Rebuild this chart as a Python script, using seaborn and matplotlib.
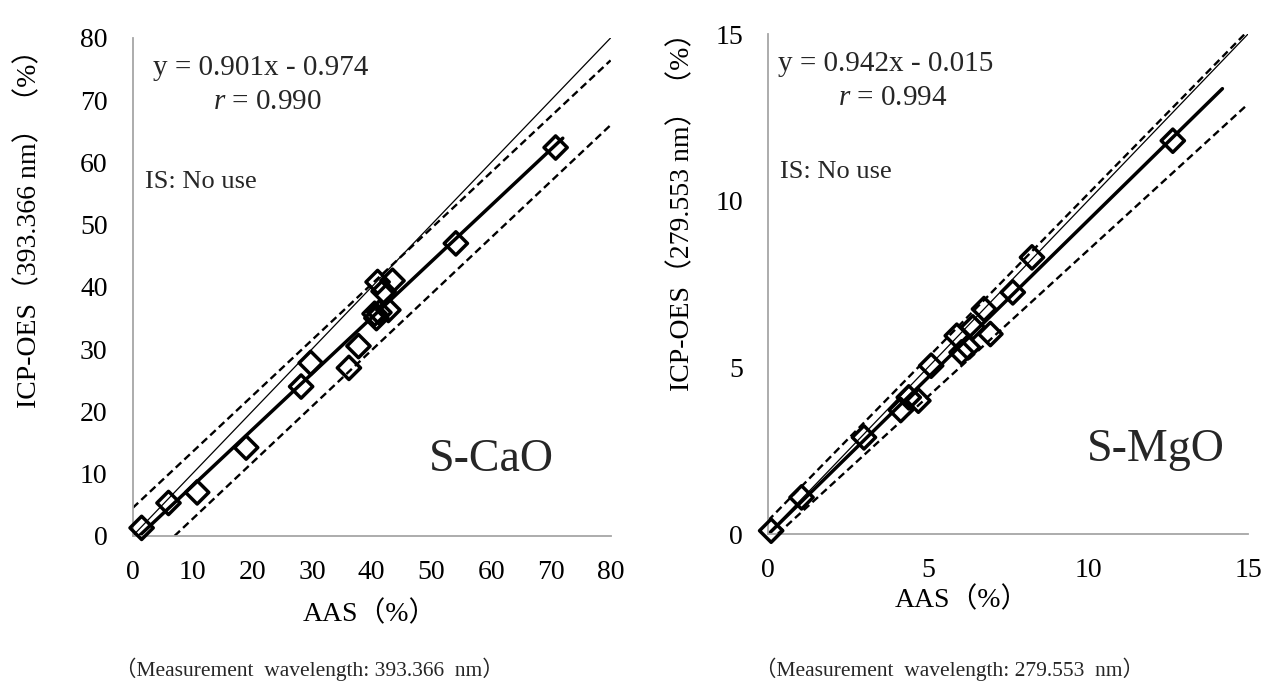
import numpy as np
import pandas as pd
import matplotlib
matplotlib.use("Agg")
import matplotlib.pyplot as plt
import seaborn as sns

# ---------------- data ----------------
cao_aas = [1.5, 6.0, 10.8, 19.0, 28.2, 29.8, 36.2, 37.8, 40.5, 40.8, 41.3, 42.8, 41.0, 42.0, 43.5, 54.1, 70.8]
cao_icp = [1.3, 5.3, 7.0, 14.2, 24.0, 27.8, 27.0, 30.5, 35.7, 35.0, 35.9, 36.3, 40.8, 39.3, 41.0, 47.0, 62.4]
cao_slope, cao_intercept, cao_r = 0.901, -0.974, 0.990
cao_fit_x = [1.2, 72.0]
cao_upper_x, cao_upper_y = [0.0, 80.0], [4.5, 76.4]
cao_lower_x, cao_lower_y = [7.0, 80.0], [0.0, 66.0]
cao_ticks = [0, 10, 20, 30, 40, 50, 60, 70, 80]

mgo_aas = [0.1, 1.05, 3.0, 4.15, 4.4, 4.7, 5.1, 5.9, 6.05, 6.25, 6.4, 6.75, 6.95, 7.65, 8.25, 12.65]
mgo_icp = [0.1, 1.1, 2.9, 3.72, 4.1, 4.0, 5.05, 5.95, 5.45, 5.6, 6.2, 6.75, 6.0, 7.25, 8.3, 11.8]
mgo_slope, mgo_intercept, mgo_r = 0.942, -0.015, 0.994
mgo_fit_x = [0.0, 14.2]
mgo_upper_x, mgo_upper_y = [0.0, 15.0], [0.4, 15.1]
mgo_lower_x, mgo_lower_y = [0.3, 15.0], [0.0, 12.9]
mgo_ticks = [0, 5, 10, 15]

# ---------------- style ----------------
sns.set_theme(style="white")
plt.rcParams["font.family"] = ["Liberation Serif", "Noto Sans CJK JP", "DejaVu Sans"]
plt.rcParams["mathtext.fontset"] = "custom"
plt.rcParams["mathtext.rm"] = "Liberation Serif"
plt.rcParams["mathtext.it"] = "Liberation Serif:italic"

fig = plt.figure(figsize=(12.61, 6.89), dpi=100)
fig.patch.set_facecolor("white")

SPINE = "#a6a6a6"


def panel(ax, aas, icp, slope, intercept, r, fit_x, up_x, up_y, lo_x, lo_y,
          ticks, lim, name, ylabel, eq_pos, r_pos, is_pos, name_pos,
          ylab_xy, xlab_xy):
    # identity line
    sns.lineplot(x=[0, lim], y=[0, lim], ax=ax, color="black", lw=0.9,
                 estimator=None, sort=False)
    # dashed bands
    sns.lineplot(x=up_x, y=up_y, ax=ax, color="black", lw=1.7,
                 linestyle=(0, (3.2, 1.8)), estimator=None, sort=False)
    sns.lineplot(x=lo_x, y=lo_y, ax=ax, color="black", lw=1.7,
                 linestyle=(0, (3.2, 1.8)), estimator=None, sort=False)
    # regression line
    fx = np.array(fit_x)
    sns.lineplot(x=fx, y=slope * fx + intercept, ax=ax, color="black", lw=2.5,
                 estimator=None, sort=False)
    # points
    df = pd.DataFrame({"AAS": aas, "ICP": icp})
    sns.scatterplot(data=df, x="AAS", y="ICP", ax=ax, marker="D", s=140,
                    facecolor="none", edgecolor="black", linewidth=2.5,
                    clip_on=False, zorder=5)

    ax.set_xlim(0, lim)
    ax.set_ylim(0, lim)
    ax.set_xticks(ticks)
    ax.set_yticks(ticks)
    for s in ["top", "right"]:
        ax.spines[s].set_visible(False)
    for s in ["left", "bottom"]:
        ax.spines[s].set_color(SPINE)
        ax.spines[s].set_linewidth(1.3)
    ax.tick_params(axis="both", direction="in", length=8, width=1.1,
                   color=SPINE, labelsize=20, labelcolor="black")
    ax.tick_params(axis="x", pad=17)
    ax.tick_params(axis="y", pad=18)

    ax.set_xlabel("AAS（%）", fontsize=20, color="black")
    ax.set_ylabel(ylabel, fontsize=20, color="black")
    ax.xaxis.set_label_coords(*xlab_xy)
    ax.yaxis.set_label_coords(*ylab_xy)

    if intercept < 0:
        eq = f"y = {slope:.3f}x - {abs(intercept):.3f}"
    else:
        eq = f"y = {slope:.3f}x + {intercept:.3f}"
    ax.text(*eq_pos, eq, transform=ax.transAxes, fontsize=21, ha="left", va="center")
    ax.text(*r_pos, r"$\mathit{r}$" + f" = {r:.3f}", transform=ax.transAxes,
            fontsize=21, ha="left", va="center")
    ax.text(*is_pos, "IS: No use", transform=ax.transAxes, fontsize=19,
            ha="left", va="center")
    ax.text(*name_pos, name, transform=ax.transAxes, fontsize=33,
            ha="left", va="center")
    ax.set_facecolor("white")
    ax.grid(False)


ax1 = fig.add_axes([0.1052, 0.2221, 0.379, 0.7228])
panel(ax1, cao_aas, cao_icp, cao_slope, cao_intercept, cao_r, cao_fit_x,
      cao_upper_x, cao_upper_y, cao_lower_x, cao_lower_y, cao_ticks, 80,
      "S-CaO", "ICP-OES（393.366 nm）（%）",
      eq_pos=(0.043, 0.94), r_pos=(0.168, 0.872), is_pos=(0.025, 0.71),
      name_pos=(0.62, 0.153), ylab_xy=(-0.19, 0.63), xlab_xy=(0.496, -0.13))

ax2 = fig.add_axes([0.609, 0.2249, 0.3807, 0.7257])
panel(ax2, mgo_aas, mgo_icp, mgo_slope, mgo_intercept, mgo_r, mgo_fit_x,
      mgo_upper_x, mgo_upper_y, mgo_lower_x, mgo_lower_y, mgo_ticks, 15,
      "S-MgO", "ICP-OES（279.553 nm）（%）",
      eq_pos=(0.02, 0.94), r_pos=(0.145, 0.872), is_pos=(0.025, 0.725),
      name_pos=(0.665, 0.168), ylab_xy=(-0.152, 0.658), xlab_xy=(0.404, -0.106))

fig.text(0.245, 0.028, "（Measurement  wavelength: 393.366  nm）", fontsize=15.5,
         ha="center", va="center")
fig.text(0.753, 0.028, "（Measurement  wavelength: 279.553  nm）", fontsize=15.5,
         ha="center", va="center")

fig.savefig("out.png", dpi=100, facecolor="white")
